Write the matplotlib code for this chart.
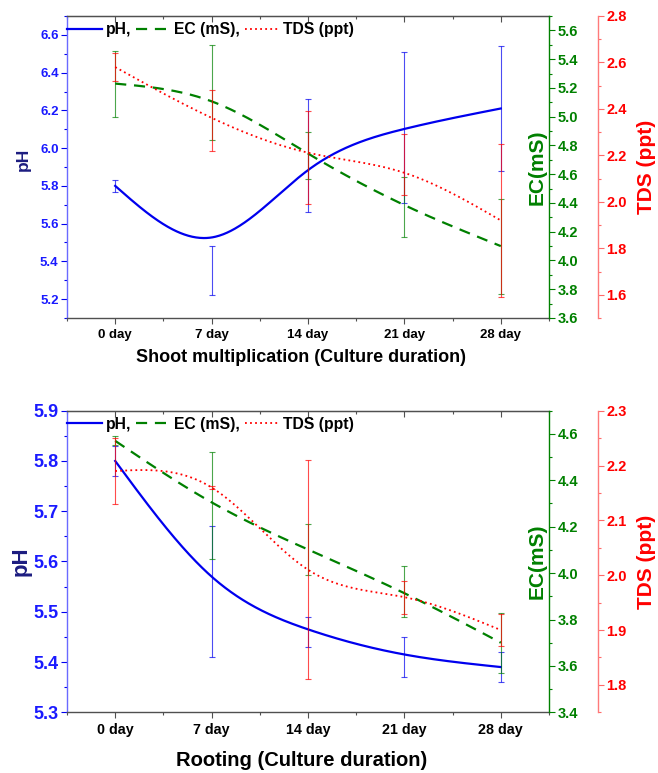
import numpy as np
import matplotlib
matplotlib.use("Agg")
import matplotlib.pyplot as plt
from matplotlib.ticker import MultipleLocator, FormatStrFormatter
from matplotlib.lines import Line2D

plt.rcParams['font.family'] = ['Liberation Sans', 'DejaVu Sans']
plt.rcParams['font.weight'] = 'bold'
plt.rcParams['axes.labelweight'] = 'bold'

# ---------------- data ----------------
days = [0, 7, 14, 21, 28]
day_labels = ["0 day", "7 day", "14 day", "21 day", "28 day"]

# Shoot multiplication
ph_shoot = [5.80, 5.35, 5.96, 6.11, 6.21]
ph_shoot_err = [0.03, 0.13, 0.30, 0.40, 0.33]
ec_shoot = [5.23, 5.17, 4.73, 4.37, 4.10]
ec_shoot_err = [0.23, 0.33, 0.16, 0.21, 0.33]
tds_shoot = [2.58, 2.35, 2.19, 2.16, 1.92]
tds_shoot_err = [0.06, 0.13, 0.20, 0.13, 0.33]

# Rooting
ph_root = [5.80, 5.54, 5.46, 5.41, 5.39]
ph_root_err = [0.03, 0.13, 0.03, 0.04, 0.03]
ec_root = [4.57, 4.29, 4.10, 3.92, 3.70]
ec_root_err = [0.02, 0.23, 0.11, 0.11, 0.13]
tds_root = [2.19, 2.16, 2.01, 1.96, 1.90]
tds_root_err = [0.06, 0.003, 0.20, 0.03, 0.03]

legend_labels = ["pH,", "EC (mS),", "TDS (ppt)"]

BLUE = '#0000ee'
GREEN = '#008000'
RED = '#ff0000'


# ---------------- smoothing helpers ----------------
def bspline_curve(x, y, n_seg=100):
    """Uniform cubic B-spline with phantom end points (passes through the end points)."""
    P = np.column_stack([x, y]).astype(float)
    Q = np.vstack([2 * P[0] - P[1], P, 2 * P[-1] - P[-2]])
    t = np.linspace(0, 1, n_seg)
    b0 = (1 - t) ** 3 / 6
    b1 = (3 * t ** 3 - 6 * t ** 2 + 4) / 6
    b2 = (-3 * t ** 3 + 3 * t ** 2 + 3 * t + 1) / 6
    b3 = t ** 3 / 6
    pts = []
    for j in range(len(Q) - 3):
        seg = (np.outer(b0, Q[j]) + np.outer(b1, Q[j + 1])
               + np.outer(b2, Q[j + 2]) + np.outer(b3, Q[j + 3]))
        pts.append(seg if j == 0 else seg[1:])
    C = np.vstack(pts)
    return C[:, 0], C[:, 1]


def natural_spline(x, y, n=400):
    x = np.asarray(x, float)
    y = np.asarray(y, float)
    h = np.diff(x)
    m = len(x)
    A = np.zeros((m, m))
    r = np.zeros(m)
    A[0, 0] = 1
    A[-1, -1] = 1
    for i in range(1, m - 1):
        A[i, i - 1] = h[i - 1]
        A[i, i] = 2 * (h[i - 1] + h[i])
        A[i, i + 1] = h[i]
        r[i] = 6 * ((y[i + 1] - y[i]) / h[i] - (y[i] - y[i - 1]) / h[i - 1])
    M = np.linalg.solve(A, r)
    xs = np.linspace(x[0], x[-1], n)
    idx = np.clip(np.searchsorted(x, xs) - 1, 0, m - 2)
    x0 = x[idx]
    x1 = x[idx + 1]
    hh = h[idx]
    ys = (M[idx] * (x1 - xs) ** 3 / (6 * hh) + M[idx + 1] * (xs - x0) ** 3 / (6 * hh)
          + (y[idx] / hh - M[idx] * hh / 6) * (x1 - xs)
          + (y[idx + 1] / hh - M[idx + 1] * hh / 6) * (xs - x0))
    return xs, ys


PX = 72.0 / 100.0  # points per pixel at dpi 100


def draw_panel(fig, rect, ph, ph_err, ec, ec_err, tds, tds_err,
               ph_lim, ph_major, ph_minor, ec_lim, ec_major, ec_minor,
               tds_lim, tds_major, tds_minor, xlabel, smoothers,
               ph_tick_fs, ph_label_fs, ph_label_xy, xtick_fs, xlabel_fs, xlabel_y):
    ax = fig.add_axes(rect)
    ax_ec = ax.twinx()
    ax_tds = ax.twinx()
    ax_tds.spines['right'].set_position(('outward', 49 * PX))

    for a in (ax_ec, ax_tds):
        for s in ('top', 'bottom', 'left'):
            a.spines[s].set_visible(False)
    ax.spines['right'].set_visible(False)
    ax.spines['left'].set_color('#6a6aff')
    ax.spines['top'].set_color('#505050')
    ax.spines['bottom'].set_color('#505050')
    ax_ec.spines['right'].set_color(GREEN)
    ax_tds.spines['right'].set_color('#ff7a7a')
    for a in (ax, ax_ec, ax_tds):
        for s in a.spines.values():
            s.set_linewidth(1.0)

    ekw = dict(fmt='none', elinewidth=0.8, capsize=2.5, capthick=0.8, alpha=0.7)

    # pH
    xs, ys = smoothers[0](days, ph)
    ax.plot(xs, ys, color=BLUE, lw=1.6)
    ax.errorbar(days, ph, yerr=ph_err, ecolor=BLUE, **ekw)
    # EC
    xs, ys = smoothers[1](days, ec)
    ax_ec.plot(xs, ys, color=GREEN, lw=1.6, dashes=(5, 3.5))
    ax_ec.errorbar(days, ec, yerr=ec_err, ecolor=GREEN, **ekw)
    # TDS
    xs, ys = smoothers[2](days, tds)
    ax_tds.plot(xs, ys, color=RED, lw=1.3, dashes=(1, 1.8))
    ax_tds.errorbar(days, tds, yerr=tds_err, ecolor=RED, **ekw)

    ax.set_xlim(-3.5, 31.5)
    ax.set_xticks(days)
    ax.set_xticklabels(day_labels)
    ax.set_xticks(np.arange(-3.5, 32, 7), minor=True)
    ax.tick_params(axis='x', which='major', direction='out', length=4, width=0.8,
                   color='#505050', labelsize=xtick_fs, pad=4)
    ax.tick_params(axis='x', which='minor', direction='out', length=2.5, width=0.8,
                   color='#505050')
    for lbl in ax.get_xticklabels():
        lbl.set_fontweight('bold')

    sec = ax.secondary_xaxis('top')
    sec.set_xticks(days)
    sec.set_xticks(np.arange(-3.5, 32, 7), minor=True)
    sec.tick_params(axis='x', which='major', direction='in', length=4, width=0.8,
                    color='#505050', labeltop=False)
    sec.tick_params(axis='x', which='minor', direction='in', length=2.5, width=0.8,
                    color='#505050')
    sec.spines['top'].set_color('#505050')

    ax.set_ylim(*ph_lim)
    ax.yaxis.set_major_locator(MultipleLocator(ph_major))
    ax.yaxis.set_minor_locator(MultipleLocator(ph_minor))
    ax.yaxis.set_major_formatter(FormatStrFormatter('%.1f'))
    ax.tick_params(axis='y', which='major', direction='out', length=4, width=0.8,
                   color=BLUE, labelcolor='#1a1aff', labelsize=ph_tick_fs, pad=2)
    ax.tick_params(axis='y', which='minor', direction='out', length=2.5, width=0.8,
                   color=BLUE)

    ax_ec.set_ylim(*ec_lim)
    ax_ec.yaxis.set_major_locator(MultipleLocator(ec_major))
    ax_ec.yaxis.set_minor_locator(MultipleLocator(ec_minor))
    ax_ec.yaxis.set_major_formatter(FormatStrFormatter('%.1f'))
    ax_ec.tick_params(axis='y', which='major', direction='out', length=4, width=0.8,
                      color=GREEN, labelcolor=GREEN, labelsize=10.5, pad=2)
    ax_ec.tick_params(axis='y', which='minor', direction='out', length=2.5, width=0.8,
                      color=GREEN)

    ax_tds.set_ylim(*tds_lim)
    ax_tds.yaxis.set_major_locator(MultipleLocator(tds_major))
    ax_tds.yaxis.set_minor_locator(MultipleLocator(tds_minor))
    ax_tds.yaxis.set_major_formatter(FormatStrFormatter('%.1f'))
    ax_tds.tick_params(axis='y', which='major', direction='out', length=4, width=0.8,
                       color='#ff6a6a', labelcolor=RED, labelsize=10.5, pad=2)
    ax_tds.tick_params(axis='y', which='minor', direction='out', length=2.5, width=0.8,
                       color='#ff6a6a')

    for a in (ax, ax_ec, ax_tds):
        for lbl in a.get_yticklabels():
            lbl.set_fontweight('bold')

    ax.set_ylabel('pH', color='#1c1c80', fontsize=ph_label_fs, fontweight='bold')
    ax.yaxis.set_label_coords(*ph_label_xy)
    ax_ec.set_ylabel('EC(mS)', color=GREEN, fontsize=15, fontweight='bold')
    ax_ec.yaxis.set_label_coords(0.955, 0.5)
    ax_tds.set_ylabel('TDS (ppt)', color=RED, fontsize=15, fontweight='bold')
    ax_tds.yaxis.set_label_coords(1.183, 0.5)

    fig.text(rect[0] + rect[2] / 2 - 0.01, xlabel_y, xlabel, ha='center', va='center',
             fontsize=xlabel_fs, fontweight='bold')

    handles = [Line2D([], [], color=BLUE, lw=1.6),
               Line2D([], [], color=GREEN, lw=1.6, dashes=(5, 3.5)),
               Line2D([], [], color=RED, lw=1.3, dashes=(1, 1.8))]
    leg = ax_tds.legend(handles, legend_labels, loc='upper left', ncol=3, frameon=False,
                        fontsize=11.3, handlelength=2.2, handletextpad=0.25,
                        columnspacing=0.3, borderaxespad=0.0, borderpad=0.0,
                        bbox_to_anchor=(0.0, 0.98))
    for txt in leg.get_texts():
        txt.set_fontweight('bold')
    return ax


fig = plt.figure(figsize=(6.58, 7.73), dpi=100)

draw_panel(fig, [67 / 658, 1 - 318 / 773, 482 / 658, 302 / 773],
           ph_shoot, ph_shoot_err, ec_shoot, ec_shoot_err, tds_shoot, tds_shoot_err,
           (5.1, 6.7), 0.2, 0.1, (3.6, 5.7), 0.2, 0.1, (1.5, 2.8), 0.2, 0.1,
           'Shoot multiplication (Culture duration)',
           (bspline_curve, bspline_curve, bspline_curve),
           9.5, 12.5, (-0.075, 0.526), 9.5, 13, 1 - 358 / 773)

draw_panel(fig, [67 / 658, 1 - 712.3 / 773, 482 / 658, 301.6 / 773],
           ph_root, ph_root_err, ec_root, ec_root_err, tds_root, tds_root_err,
           (5.3, 5.9), 0.1, 0.05, (3.4, 4.7), 0.2, 0.1, (1.75, 2.3), 0.1, 0.05,
           'Rooting (Culture duration)',
           (bspline_curve, bspline_curve, natural_spline),
           13, 16, (-0.073, 0.5), 10.3, 14.5, 1 - 760 / 773)

fig.savefig('out.png', dpi=100)
